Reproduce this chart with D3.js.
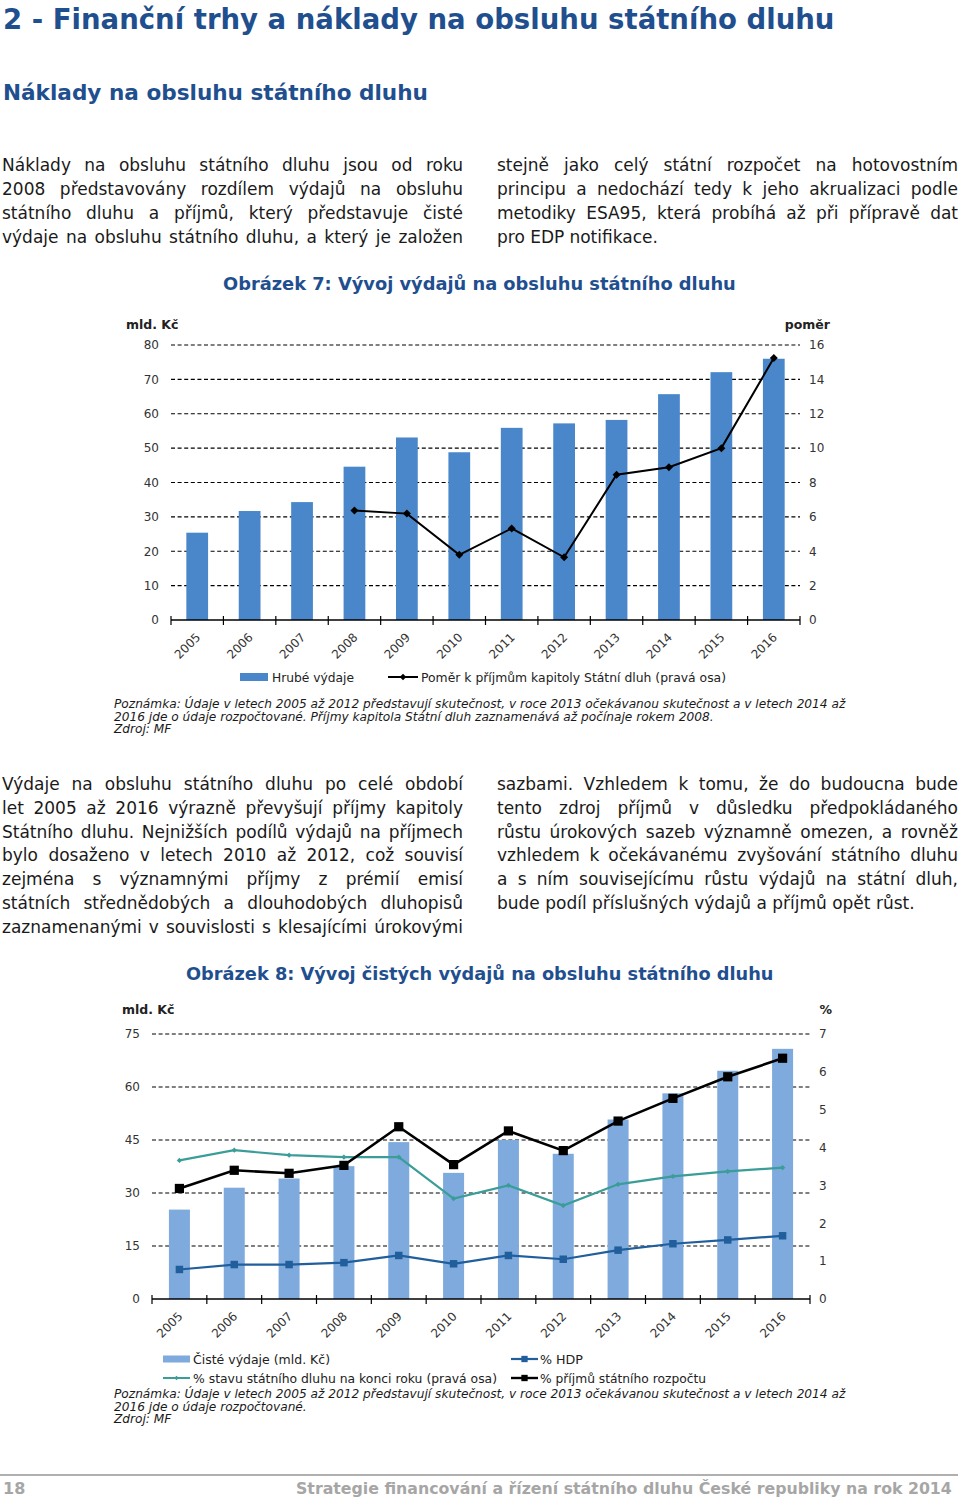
<!DOCTYPE html>
<html><head><meta charset="utf-8">
<script src="https://cdn.jsdelivr.net/npm/d3@7"></script>
<style>body{margin:0;background:#fff}svg{display:block}</style>
</head><body>
<svg id="page" width="960" height="1501"></svg>
<script>
// ---------- DATA ----------
const years = ["2005","2006","2007","2008","2009","2010","2011","2012","2013","2014","2015","2016"];
// Figure 7
const grossExpenditure = [25.4, 31.7, 34.3, 44.6, 53.1, 48.8, 55.9, 57.2, 58.2, 65.7, 72.1, 76.0];
const ratioToRevenue = [null, null, null, 6.37, 6.19, 3.79, 5.33, 3.65, 8.45, 8.89, 10.0, 15.24];
const leftTicks1 = [0, 10, 20, 30, 40, 50, 60, 70, 80];
const rightTicks1 = [0, 2, 4, 6, 8, 10, 12, 14, 16];
// Figure 8
const netExpenditure = [25.3, 31.5, 34.1, 37.6, 44.4, 35.7, 45.0, 41.1, 50.8, 58.2, 64.6, 70.8];
const pctDebt = [3.66, 3.93, 3.80, 3.75, 3.75, 2.65, 3.00, 2.47, 3.03, 3.24, 3.37, 3.47];
const pctGDP = [0.78, 0.91, 0.91, 0.96, 1.15, 0.93, 1.15, 1.05, 1.29, 1.46, 1.56, 1.67];
const pctRevenue = [2.92, 3.40, 3.32, 3.53, 4.55, 3.55, 4.44, 3.92, 4.70, 5.30, 5.87, 6.36];
const leftTicks2 = [0, 15, 30, 45, 60, 75];
const rightTicks2 = [0, 1, 2, 3, 4, 5, 6, 7];

// ---------- TEXTS ----------
const heading1 = "2 - Finanční trhy a náklady na obsluhu státního dluhu";
const heading2 = "Náklady na obsluhu státního dluhu";
const para1Left = ["Náklady na obsluhu státního dluhu jsou od roku","2008 představovány rozdílem výdajů na obsluhu","státního dluhu a příjmů, který představuje čisté","výdaje na obsluhu státního dluhu, a který je založen"];
const para1Right = ["stejně jako celý státní rozpočet na hotovostním","principu a nedochází tedy k jeho akrualizaci podle","metodiky ESA95, která probíhá až při přípravě dat","pro EDP notifikace."];
const para2Left = ["Výdaje na obsluhu státního dluhu po celé období","let 2005 až 2016 výrazně převyšují příjmy kapitoly","Státního dluhu. Nejnižších podílů výdajů na příjmech","bylo dosaženo v letech 2010 až 2012, což souvisí","zejména s významnými příjmy z prémií emisí","státních střednědobých a dlouhodobých dluhopisů","zaznamenanými v souvislosti s klesajícími úrokovými"];
const para2Right = ["sazbami. Vzhledem k tomu, že do budoucna bude","tento zdroj příjmů v důsledku předpokládaného","růstu úrokových sazeb významně omezen, a rovněž","vzhledem k očekávanému zvyšování státního dluhu","a s ním souvisejícímu růstu výdajů na státní dluh,","bude podíl příslušných výdajů a příjmů opět růst."];
const title1 = "Obrázek 7: Vývoj výdajů na obsluhu státního dluhu";
const title2 = "Obrázek 8: Vývoj čistých výdajů na obsluhu státního dluhu";
const note1 = ["Poznámka: Údaje v letech 2005 až 2012 představují skutečnost, v roce 2013 očekávanou skutečnost a v letech 2014 až","2016 jde o údaje rozpočtované. Příjmy kapitola Státní dluh zaznamenává až počínaje rokem 2008.","Zdroj: MF"];
const note2 = ["Poznámka: Údaje v letech 2005 až 2012 představují skutečnost, v roce 2013 očekávanou skutečnost a v letech 2014 až","2016 jde o údaje rozpočtované.","Zdroj: MF"];
const legend1 = ["Hrubé výdaje","Poměr k příjmům kapitoly Státní dluh (pravá osa)"];
const legend2 = ["Čisté výdaje (mld. Kč)","% HDP","% stavu státního dluhu na konci roku (pravá osa)","% příjmů státního rozpočtu"];
const footerText = "Strategie financování a řízení státního dluhu České republiky na rok 2014";

// ---------- STYLE ----------
const FONT = "'DejaVu Sans', Verdana, sans-serif";
const BLUE_HEAD = "#1f4f8e";
const BAR1 = "#4a87ca";
const BAR2 = "#7eaadd";
const TEAL = "#3a9d98";
const NAVY = "#215e9c";
const BODY_FS = 17;

const svg = d3.select("#page").style("font-family", FONT);

function fitFont(sel, width) {
  const w = sel.node().getComputedTextLength();
  const fs = parseFloat(sel.attr("font-size"));
  sel.attr("font-size", fs * width / w);
  return fs * width / w;
}

// justified line
function justLine(g, text, x0, x1, y, justify, fs) {
  const words = text.split(" ");
  const t = g.append("text").attr("y", y).attr("font-size", fs).attr("fill", "#1a1a1a");
  const spans = words.map(w => t.append("tspan").text(w));
  const widths = spans.map(s => s.node().getComputedTextLength());
  const sum = d3.sum(widths);
  const spaceW = fs * 0.318;
  let gap = justify && words.length > 1 ? (x1 - x0 - sum) / (words.length - 1) : spaceW;
  let scale = 1;
  if (gap < fs * 0.15) { gap = fs * 0.15; scale = (x1 - x0 - gap * (words.length - 1)) / sum; }
  let x = x0;
  spans.forEach((s, i) => {
    s.attr("x", x);
    if (scale < 1) s.attr("textLength", widths[i] * scale).attr("lengthAdjust", "spacingAndGlyphs");
    x += widths[i] * scale + gap;
  });
}
function paragraph(lines, x0, x1, y0, dy, lastJustify) {
  const g = svg.append("g");
  lines.forEach((l, i) => justLine(g, l, x0, x1, y0 + i * dy, i < lines.length - 1 || lastJustify, BODY_FS));
}

// ---------- HEADINGS ----------
const h1 = svg.append("text").attr("x", 3).attr("y", 29).attr("font-size", 27).attr("font-weight", "bold").attr("fill", BLUE_HEAD).text(heading1);
fitFont(h1, 832);
const h2 = svg.append("text").attr("x", 3).attr("y", 100).attr("font-size", 21).attr("font-weight", "bold").attr("fill", BLUE_HEAD).text(heading2);
fitFont(h2, 425);

paragraph(para1Left, 2, 463, 171, 24, true);
paragraph(para1Right, 497, 958, 171, 24, false);
paragraph(para2Left, 2, 463, 790, 23.8, true);
paragraph(para2Right, 497, 958, 790, 23.8, false);

const t1 = svg.append("text").attr("x", 223).attr("y", 290).attr("font-size", 17).attr("font-weight", "bold").attr("fill", BLUE_HEAD).text(title1);
fitFont(t1, 513);
const t2 = svg.append("text").attr("x", 186).attr("y", 980).attr("font-size", 17).attr("font-weight", "bold").attr("fill", BLUE_HEAD).text(title2);
fitFont(t2, 588);

function notes(lines, y0) {
  const g = svg.append("g").attr("font-style", "italic").attr("fill", "#1a1a1a");
  const first = g.append("text").attr("x", 114).attr("y", y0).attr("font-size", 11.5).text(lines[0]);
  const fs = fitFont(first, 732);
  lines.slice(1).forEach((l, i) => g.append("text").attr("x", 114).attr("y", y0 + (i + 1) * 12.6).attr("font-size", fs).text(l));
}
notes(note1, 708);
notes(note2, 1398);

// ---------- FOOTER ----------
svg.append("line").attr("x1", 0).attr("x2", 958).attr("y1", 1475).attr("y2", 1475).attr("stroke", "#b0b0b0").attr("stroke-width", 2);
svg.append("text").attr("x", 3).attr("y", 1494).attr("font-size", 16).attr("font-weight", "bold").attr("fill", "#a6a6a6").text("18");
const ft = svg.append("text").attr("x", 296).attr("y", 1494).attr("font-size", 16).attr("font-weight", "bold").attr("fill", "#a6a6a6").text(footerText);
fitFont(ft, 656);

// ---------- CHART HELPERS ----------
function axesAndGrid(g, x, yL, yR, ticksL, ticksR, x0, x1, unitL, unitR, unitLPos, unitRPos) {
  // grid
  g.append("g").selectAll("line").data(ticksL.filter(v => v > 0)).join("line")
    .attr("x1", x0).attr("x2", x1).attr("y1", d => yL(d)).attr("y2", d => yL(d))
    .attr("stroke", "#000").attr("stroke-width", 1.1).attr("stroke-dasharray", "4,2.6");
  // left labels
  const la = g.append("g").attr("transform", `translate(${x0},0)`)
    .call(d3.axisLeft(yL).tickValues(ticksL).tickFormat(d3.format("d")).tickSize(0).tickPadding(12));
  la.select(".domain").remove();
  la.selectAll("text").attr("font-size", 12).attr("font-family", FONT).attr("fill", "#333");
  const ra = g.append("g").attr("transform", `translate(${x1},0)`)
    .call(d3.axisRight(yR).tickValues(ticksR).tickFormat(d3.format("d")).tickSize(0).tickPadding(9));
  ra.select(".domain").remove();
  ra.selectAll("text").attr("font-size", 12).attr("font-family", FONT).attr("fill", "#333");
  // unit labels
  g.append("text").attr("x", unitLPos[0]).attr("y", unitLPos[1]).attr("font-size", 12.5).attr("font-weight", "bold").attr("fill", "#222").text(unitL);
  g.append("text").attr("x", unitRPos[0]).attr("y", unitRPos[1]).attr("font-size", 12.5).attr("font-weight", "bold").attr("fill", "#222").attr("text-anchor", "end").text(unitR);
}
function xAxis(g, x, base, x0, x1) {
  g.append("line").attr("x1", x0).attr("x2", x1).attr("y1", base).attr("y2", base).attr("stroke", "#000").attr("stroke-width", 1.3);
  const bounds = years.map(d => x(d) + x.bandwidth() / 2 - x.step() / 2).concat([x1]);
  g.append("g").selectAll("line").data(bounds).join("line")
    .attr("x1", d => d).attr("x2", d => d).attr("y1", base - 4).attr("y2", base + 5)
    .attr("stroke", "#000").attr("stroke-width", 1.2);
  const xa = g.append("g").attr("transform", `translate(0,${base})`)
    .call(d3.axisBottom(x).tickSize(0).tickPadding(0));
  xa.select(".domain").remove();
  xa.selectAll("text").attr("font-size", 12).attr("font-family", FONT).attr("fill", "#333")
    .attr("text-anchor", "end").attr("dy", null).attr("y", 0)
    .attr("transform", `translate(4,18) rotate(-45)`);
}
const center = (x, d) => x(d) + x.bandwidth() / 2;

// ---------- FIGURE 7 ----------
{
  const g = svg.append("g");
  const X0 = 171, X1 = 800, BASE = 620, TOP = 345;
  const x = d3.scaleBand().domain(years).range([X0, X1]).paddingInner(0.585).paddingOuter(0.2925);
  const y = d3.scaleLinear().domain([0, 80]).range([BASE, TOP]);
  const yr = d3.scaleLinear().domain([0, 16]).range([BASE, TOP]);
  axesAndGrid(g, x, y, yr, leftTicks1, rightTicks1, X0, X1, "mld. Kč", "poměr", [126, 329], [830, 329]);
  g.append("g").selectAll("rect").data(years).join("rect")
    .attr("x", d => x(d)).attr("width", x.bandwidth())
    .attr("y", (d, i) => y(grossExpenditure[i])).attr("height", (d, i) => BASE - y(grossExpenditure[i]))
    .attr("fill", BAR1);
  xAxis(g, x, BASE, X0, X1);
  const pts = years.map((d, i) => ({ d, v: ratioToRevenue[i] })).filter(p => p.v != null);
  g.append("path").datum(pts)
    .attr("d", d3.line().x(p => center(x, p.d)).y(p => yr(p.v)))
    .attr("fill", "none").attr("stroke", "#000").attr("stroke-width", 2);
  g.append("g").selectAll("path").data(pts).join("path")
    .attr("d", d3.symbol(d3.symbolSquare, 32)())
    .attr("transform", p => `translate(${center(x, p.d)},${yr(p.v)}) rotate(45)`)
    .attr("fill", "#000");
  // legend
  const ly = 677;
  g.append("rect").attr("x", 240).attr("y", ly - 4).attr("width", 28).attr("height", 8).attr("fill", BAR1);
  g.append("text").attr("x", 272).attr("y", ly + 4.5).attr("font-size", 12).attr("fill", "#222")
    .attr("textLength", 82).attr("lengthAdjust", "spacingAndGlyphs").text(legend1[0]);
  g.append("line").attr("x1", 388).attr("x2", 418).attr("y1", ly).attr("y2", ly).attr("stroke", "#000").attr("stroke-width", 2);
  g.append("path").attr("d", d3.symbol(d3.symbolSquare, 22)()).attr("transform", `translate(403,${ly}) rotate(45)`).attr("fill", "#000");
  g.append("text").attr("x", 421).attr("y", ly + 4.5).attr("font-size", 12).attr("fill", "#222")
    .attr("textLength", 305).attr("lengthAdjust", "spacingAndGlyphs").text(legend1[1]);
}

// ---------- FIGURE 8 ----------
{
  const g = svg.append("g");
  const X0 = 152, X1 = 810, BASE = 1299, TOP = 1034;
  const x = d3.scaleBand().domain(years).range([X0, X1]).paddingInner(0.617).paddingOuter(0.3085);
  const y = d3.scaleLinear().domain([0, 75]).range([BASE, TOP]);
  const yr = d3.scaleLinear().domain([0, 7]).range([BASE, TOP]);
  axesAndGrid(g, x, y, yr, leftTicks2, rightTicks2, X0, X1, "mld. Kč", "%", [122, 1014], [832, 1014]);
  g.append("g").selectAll("rect").data(years).join("rect")
    .attr("x", d => x(d)).attr("width", x.bandwidth())
    .attr("y", (d, i) => y(netExpenditure[i])).attr("height", (d, i) => BASE - y(netExpenditure[i]))
    .attr("fill", BAR2);
  xAxis(g, x, BASE, X0, X1);
  const series = [
    { vals: pctDebt, color: TEAL, w: 2.2, sym: d3.symbol(d3.symbolSquare, 14)(), rot: 45 },
    { vals: pctGDP, color: NAVY, w: 2.2, sym: d3.symbol(d3.symbolSquare, 56)(), rot: 0 },
    { vals: pctRevenue, color: "#000", w: 2.6, sym: d3.symbol(d3.symbolSquare, 85)(), rot: 0 }
  ];
  series.forEach(s => {
    const pts = years.map((d, i) => ({ d, v: s.vals[i] }));
    g.append("path").datum(pts)
      .attr("d", d3.line().x(p => center(x, p.d)).y(p => yr(p.v)))
      .attr("fill", "none").attr("stroke", s.color).attr("stroke-width", s.w);
    g.append("g").selectAll("path").data(pts).join("path")
      .attr("d", s.sym)
      .attr("transform", p => `translate(${center(x, p.d)},${yr(p.v)}) rotate(${s.rot})`)
      .attr("fill", s.color);
  });
  // legend
  const r1 = 1359, r2 = 1378;
  g.append("rect").attr("x", 163).attr("y", r1 - 3.5).attr("width", 27).attr("height", 7).attr("fill", BAR2);
  g.append("text").attr("x", 193).attr("y", r1 + 4.5).attr("font-size", 12).attr("fill", "#222")
    .attr("textLength", 137).attr("lengthAdjust", "spacingAndGlyphs").text(legend2[0]);
  const legLine = (x0, yy, s) => {
    g.append("line").attr("x1", x0).attr("x2", x0 + 27).attr("y1", yy).attr("y2", yy).attr("stroke", s.color).attr("stroke-width", s.w);
    g.append("path").attr("d", s.sym).attr("transform", `translate(${x0 + 13.5},${yy}) rotate(${s.rot})`).attr("fill", s.color);
  };
  legLine(511, r1, { color: NAVY, w: 2.2, sym: d3.symbol(d3.symbolSquare, 40)(), rot: 0 });
  g.append("text").attr("x", 540).attr("y", r1 + 4.5).attr("font-size", 12).attr("fill", "#222")
    .attr("textLength", 43).attr("lengthAdjust", "spacingAndGlyphs").text(legend2[1]);
  legLine(163, r2, { color: TEAL, w: 2, sym: d3.symbol(d3.symbolSquare, 10)(), rot: 45 });
  g.append("text").attr("x", 193).attr("y", r2 + 4.5).attr("font-size", 12).attr("fill", "#222")
    .attr("textLength", 304).attr("lengthAdjust", "spacingAndGlyphs").text(legend2[2]);
  legLine(511, r2, { color: "#000", w: 2.4, sym: d3.symbol(d3.symbolSquare, 40)(), rot: 0 });
  g.append("text").attr("x", 540).attr("y", r2 + 4.5).attr("font-size", 12).attr("fill", "#222")
    .attr("textLength", 166).attr("lengthAdjust", "spacingAndGlyphs").text(legend2[3]);
}
</script>
</body></html>
